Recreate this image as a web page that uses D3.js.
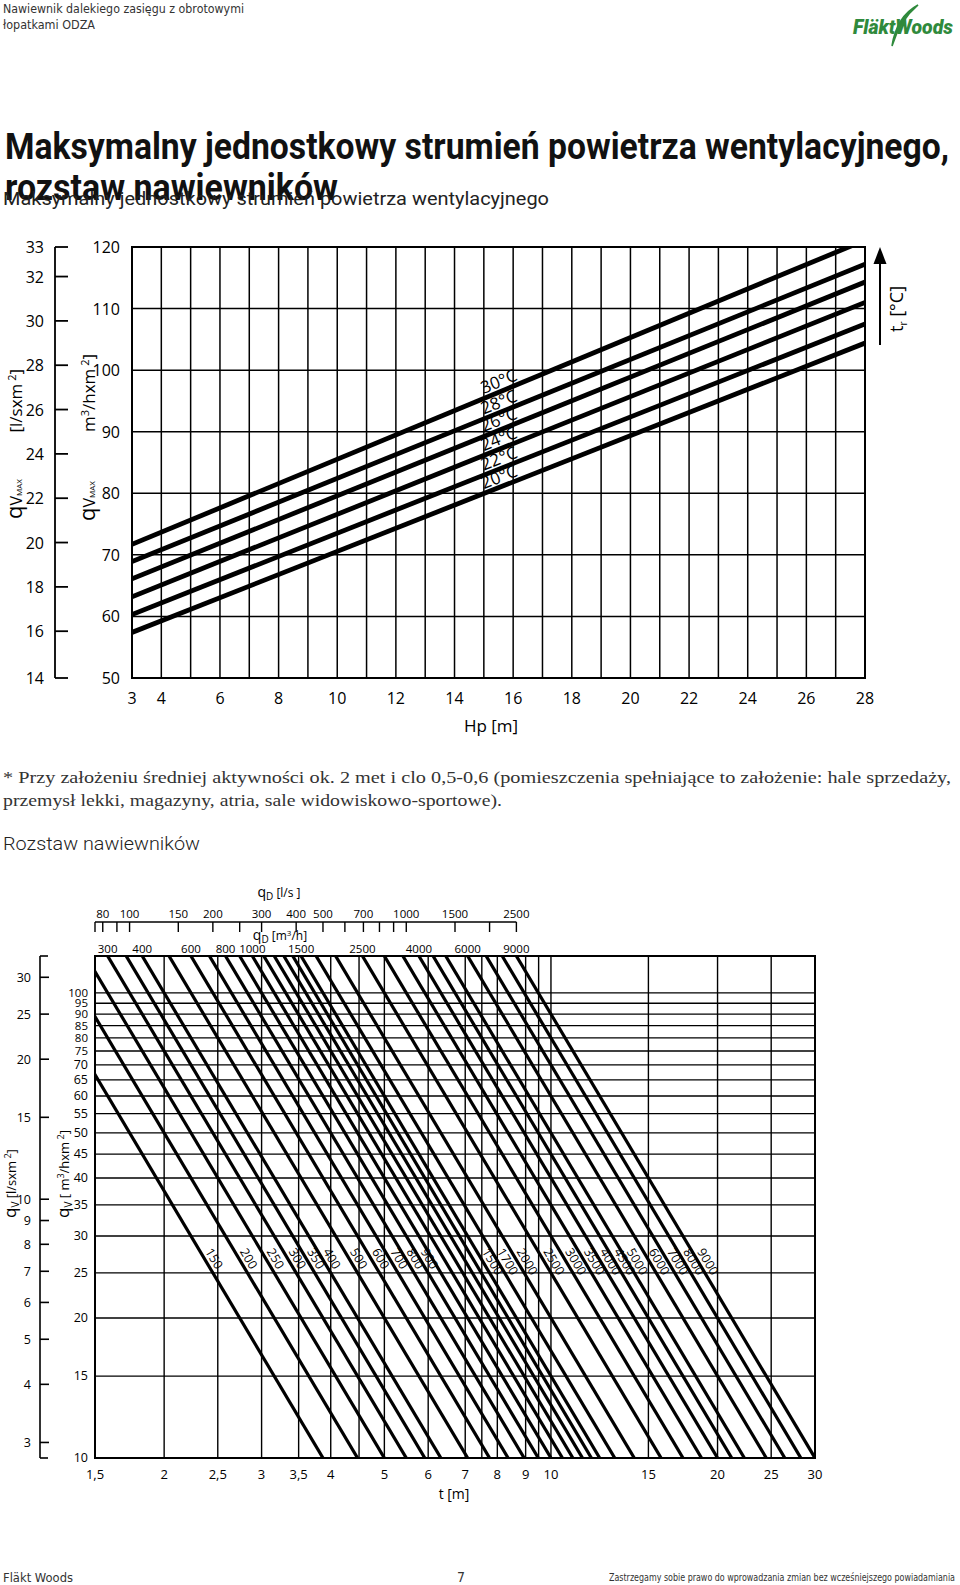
<!DOCTYPE html>
<html><head><meta charset="utf-8">
<script src="https://cdn.jsdelivr.net/npm/d3@7"></script>
<style>body{margin:0;background:#fff}svg{display:block}</style>
</head><body>
<svg id="c" width="960" height="1585"></svg>
<script>
// ---------------- DATA ----------------
// Top chart: maximum unit air flow vs mounting height
const hpGrid = [3,4,5,6,7,8,9,10,11,12,13,14,15,16,17,18,19,20,21,22,23,24,25,26,27,28];
const hpLabels = [3,4,6,8,10,12,14,16,18,20,22,24,26,28];
const qvmaxM3Ticks = [50,60,70,80,90,100,110,120];
const qvmaxM3Grid = [60,70,80,90,100,110];
const qvmaxLsTicks = [14,16,18,20,22,24,26,28,30,32,33];
const tempLabels = ["20°C","22°C","24°C","26°C","28°C","30°C"];
const tempStartVals = [57.4, 60.3, 63.2, 66.1, 68.9, 71.7];   // at Hp = 3
const tempEndVals   = [104.4, 107.5, 111.0, 114.3, 117.2, 121.1]; // at Hp = 28

// Bottom chart: diffuser spacing nomogram
const tTicks = [1.5,2,2.5,3,3.5,4,5,6,7,8,9,10,15,20,25,30];
const tGrid = [2,2.5,3,3.5,4,4.5,5,6,7,7.5,8,9,9.5,10,15,20,25,30];
const qvM3Ticks = [10,15,20,25,30,35,40,45,50,55,60,65,70,75,80,85,90,95,100];
const qvLsTicks = [3,4,5,6,7,8,9,10,15,20,25,30];
const qdLsTicks = [75,80,90,100,150,200,250,300,400,500,600,700,800,900,1000,1500,2000,2500];
const qdLsLabels = [80,100,150,200,300,400,500,700,1000,1500,2500];
const qdM3Labels = [300,400,600,800,1000,1500,2500,4000,6000,9000];
const qdLines = [150,200,250,300,350,400,500,600,700,800,900,1000,1100,1200,1300,1400,1500,1700,2000,2500,3000,3500,4000,4500,5000,6000,7000,8000,9000];
const qdLineLabels = [150,200,250,300,350,400,500,600,700,800,900,1500,1700,2000,2500,3000,3500,4000,4500,5000,6000,7000,8000,9000];

// ---------------- DRAW ----------------
const svg = d3.select('#c');
svg.append('rect').attr('width',960).attr('height',1585).attr('fill','#fff');
const NUM = "'Open Sans','Noto Sans',sans-serif";
const COND = "'Liberation Sans Narrow','DejaVu Sans Condensed',Roboto,sans-serif";
const comma = v => String(v).replace('.', ',');

// Header
svg.append('text').attr('x',3).attr('y',13).attr('font-family',COND).attr('font-size',13)
  .attr('fill','#333').attr('textLength',241).attr('lengthAdjust','spacingAndGlyphs')
  .text('Nawiewnik dalekiego zasięgu z obrotowymi');
svg.append('text').attr('x',3).attr('y',29).attr('font-family',COND).attr('font-size',13)
  .attr('fill','#333').attr('textLength',92).attr('lengthAdjust','spacingAndGlyphs')
  .text('łopatkami ODZA');
svg.append('path').attr('d','M918 5 C903 13 895 27 892 46 C897 30 905 16 918 5 Z').attr('fill','#2f8a3c')
  .attr('stroke','#2f8a3c').attr('stroke-width',1.6);
svg.append('text').attr('x',853).attr('y',34).attr('font-family','Roboto,sans-serif')
  .attr('font-weight',900).attr('font-style','italic').attr('font-size',21)
  .attr('fill','#2f8a3c').attr('textLength',100).attr('lengthAdjust','spacingAndGlyphs').text('FläktWoods');

// Title
svg.append('text').attr('x',5).attr('y',159).attr('font-family','Roboto,sans-serif').attr('font-weight','bold')
  .attr('font-size',37).attr('fill','#111').attr('textLength',944).attr('lengthAdjust','spacingAndGlyphs')
  .text('Maksymalny jednostkowy strumień powietrza wentylacyjnego,');
svg.append('text').attr('x',5).attr('y',200).attr('font-family','Roboto,sans-serif').attr('font-weight','bold')
  .attr('font-size',37).attr('fill','#111').attr('textLength',333).attr('lengthAdjust','spacingAndGlyphs')
  .text('rozstaw nawiewników');
svg.append('text').attr('x',3).attr('y',205).attr('font-family','Roboto,sans-serif')
  .attr('font-size',19).attr('fill','#222').attr('textLength',546).attr('lengthAdjust','spacingAndGlyphs')
  .text('Maksymalny jednostkowy strumień powietrza wentylacyjnego');

// ---------- TOP CHART ----------
const xT = d3.scaleLinear().domain([3,28]).range([132,865]);
const yT = d3.scaleLinear().domain([50,120]).range([678,247]);
const yTls = d3.scaleLinear().domain([14,16,32,33]).range([yT(50),yT(16*3.6),yT(32*3.6),yT(120)]);
const gT = svg.append('g');
gT.append('defs').append('clipPath').attr('id','clipT').append('rect')
  .attr('x',xT(3)).attr('y',yT(120)).attr('width',xT(28)-xT(3)).attr('height',yT(50)-yT(120));
gT.selectAll('.vg').data(hpGrid).join('line').attr('x1',d=>xT(d)).attr('x2',d=>xT(d))
  .attr('y1',yT(50)).attr('y2',yT(120)).attr('stroke','#000').attr('stroke-width',1.5);
gT.selectAll('.hg').data(qvmaxM3Grid).join('line').attr('y1',d=>yT(d)).attr('y2',d=>yT(d))
  .attr('x1',xT(3)).attr('x2',xT(28)).attr('stroke','#000').attr('stroke-width',1.5);
gT.append('rect').attr('x',xT(3)).attr('y',yT(120)).attr('width',xT(28)-xT(3)).attr('height',yT(50)-yT(120))
  .attr('fill','none').attr('stroke','#000').attr('stroke-width',2);
const tempData = tempLabels.map((l,i)=>({l, a:tempStartVals[i], b:tempEndVals[i]}));
gT.append('g').attr('clip-path','url(#clipT)').selectAll('line').data(tempData).join('line')
  .attr('x1',xT(3)).attr('x2',xT(28)).attr('y1',d=>yT(d.a)).attr('y2',d=>yT(d.b))
  .attr('stroke','#000').attr('stroke-width',4.8);
const hpLab = 15.05;
tempData.forEach(d=>{
  const ang = Math.atan2(yT(d.b)-yT(d.a), xT(28)-xT(3));
  const v = d.a + (d.b-d.a)*(hpLab-3)/25;
  const px = xT(hpLab) + 4*Math.sin(ang), py = yT(v) - 4*Math.cos(ang);
  gT.append('text').attr('transform',`translate(${px},${py}) rotate(${ang*180/Math.PI})`)
    .attr('font-family',NUM).attr('font-size',17).attr('fill','#000').text(d.l);
});
// inner left labels
gT.selectAll('.ll').data(qvmaxM3Ticks).join('text').attr('x',120).attr('y',d=>yT(d)+6)
  .attr('text-anchor','end').attr('font-family',NUM).attr('font-size',16).text(d=>d);
// outer left axis
gT.append('line').attr('x1',55).attr('x2',55).attr('y1',yTls(14)).attr('y2',yTls(33)).attr('stroke','#000').attr('stroke-width',1.8);
gT.selectAll('.ot').data(qvmaxLsTicks).join('line').attr('x1',55).attr('x2',68)
  .attr('y1',d=>yTls(d)).attr('y2',d=>yTls(d)).attr('stroke','#000').attr('stroke-width',1.8);
gT.selectAll('.ol').data(qvmaxLsTicks).join('text').attr('x',44).attr('y',d=>yTls(d)+6)
  .attr('text-anchor','end').attr('font-family',NUM).attr('font-size',16).text(d=>d);
// bottom labels
gT.selectAll('.bl').data(hpLabels).join('text').attr('x',d=>xT(d)).attr('y',704)
  .attr('text-anchor','middle').attr('font-family',NUM).attr('font-size',16).text(d=>d);
gT.append('text').attr('x',491).attr('y',732).attr('text-anchor','middle').attr('font-family',NUM)
  .attr('font-size',17).text('Hp [m]');
// rotated titles
function vTitle(x,y,anchor,parts,size){
  const t = svg.append('text').attr('transform',`translate(${x},${y}) rotate(-90)`)
    .attr('text-anchor',anchor).attr('font-family',NUM).attr('font-size',size);
  parts.forEach(p=>{ const s=t.append('tspan').text(p[0]); if(p[1]) s.attr('font-size',p[1]); if(p[2]) s.attr('dy',p[2]); });
  return t;
}
vTitle(22,519,'start',[['q',22],['V',16,0],['MAX',8,0]],16);
vTitle(22,369,'end',[['[l/sxm',17],[' 2',11,-6],[']',17,6]],17);
vTitle(95,521,'start',[['q',22],['V',16,0],['MAX',8,0]],16);
vTitle(95,354,'end',[['m',17],['3',11,-6],['/hxm',17,6],[' 2',11,-6],[']',17,6]],17);
// t_r arrow
svg.append('line').attr('x1',880).attr('x2',880).attr('y1',260).attr('y2',345).attr('stroke','#000').attr('stroke-width',2);
svg.append('path').attr('d','M880 247 L873.5 264 L886.5 264 Z').attr('fill','#000');
{
  const t = svg.append('text').attr('transform','translate(903,309) rotate(-90)').attr('text-anchor','middle')
   .attr('font-family',NUM).attr('font-size',18);
  t.append('tspan').text('t'); t.append('tspan').attr('font-size',10).attr('dy',4).text('r');
  t.append('tspan').attr('dy',-4).text(' [°C]');
}

// Note
svg.append('text').attr('x',3).attr('y',783).attr('font-family',"'Liberation Serif','DejaVu Serif',serif")
  .attr('font-size',17).attr('fill','#333').attr('textLength',948).attr('lengthAdjust','spacingAndGlyphs')
  .text('* Przy założeniu średniej aktywności ok. 2 met i clo 0,5-0,6 (pomieszczenia spełniające to założenie: hale sprzedaży,');
svg.append('text').attr('x',3).attr('y',806).attr('font-family',"'Liberation Serif','DejaVu Serif',serif")
  .attr('font-size',17).attr('fill','#333').attr('textLength',499).attr('lengthAdjust','spacingAndGlyphs')
  .text('przemysł lekki, magazyny, atria, sale widowiskowo-sportowe).');
svg.append('text').attr('x',3).attr('y',850).attr('font-family','Roboto,sans-serif').attr('font-weight',300)
  .attr('font-size',19).attr('fill','#222').attr('textLength',197).attr('lengthAdjust','spacingAndGlyphs')
  .text('Rozstaw nawiewników');

// ---------- BOTTOM CHART ----------
const xB = d3.scaleLog().domain([1.5,30]).range([95,815]);
const yB = d3.scaleLog().domain([10,120]).range([1458,956]);
const gB = svg.append('g');
gB.append('defs').append('clipPath').attr('id','clipB').append('rect')
  .attr('x',xB(1.5)).attr('y',yB(120)).attr('width',xB(30)-xB(1.5)).attr('height',yB(10)-yB(120));
gB.selectAll('.vg').data(tGrid).join('line').attr('x1',d=>xB(d)).attr('x2',d=>xB(d))
  .attr('y1',yB(10)).attr('y2',yB(120)).attr('stroke','#000').attr('stroke-width',1.4);
gB.selectAll('.hg').data(qvM3Ticks).join('line').attr('y1',d=>yB(d)).attr('y2',d=>yB(d))
  .attr('x1',xB(1.5)).attr('x2',xB(30)).attr('stroke','#000').attr('stroke-width',1.4);
gB.append('rect').attr('x',xB(1.5)).attr('y',yB(120)).attr('width',xB(30)-xB(1.5)).attr('height',yB(10)-yB(120))
  .attr('fill','none').attr('stroke','#000').attr('stroke-width',2);
gB.append('g').attr('clip-path','url(#clipB)').selectAll('line').data(qdLines).join('line')
  .attr('x1',d=>xB(Math.sqrt(d/200))).attr('y1',yB(200))
  .attr('x2',d=>xB(Math.sqrt(d/5))).attr('y2',yB(5))
  .attr('stroke','#000').attr('stroke-width',3.2);
qdLineLabels.forEach(q=>{
  const ang = Math.atan2(yB(5)-yB(200), xB(Math.sqrt(q/5))-xB(Math.sqrt(q/200)));
  const qv = 27.5;
  const px = xB(Math.sqrt(q/qv)) + 4*Math.sin(ang), py = yB(qv) - 4*Math.cos(ang);
  gB.append('text').attr('transform',`translate(${px},${py}) rotate(${ang*180/Math.PI})`)
    .attr('font-family',NUM).attr('font-size',12.5).text(q);
});
// left inner labels
gB.selectAll('.li').data(qvM3Ticks).join('text').attr('x',88).attr('y',d=>yB(d)+4)
  .attr('text-anchor','end').attr('font-family',NUM).attr('font-size',d=>d>=75?11.5:12.5).text(d=>d);
// left outer axis
gB.append('line').attr('x1',40).attr('x2',40).attr('y1',yB(10)).attr('y2',yB(120)).attr('stroke','#000').attr('stroke-width',1.6);
gB.selectAll('.oc').data([10,120]).join('line').attr('x1',40).attr('x2',48).attr('y1',d=>yB(d)).attr('y2',d=>yB(d)).attr('stroke','#000').attr('stroke-width',1.6);
gB.selectAll('.ot').data(qvLsTicks).join('line').attr('x1',40).attr('x2',49)
  .attr('y1',d=>yB(d*3.6)).attr('y2',d=>yB(d*3.6)).attr('stroke','#000').attr('stroke-width',1.6);
gB.selectAll('.ol').data(qvLsTicks).join('text').attr('x',31).attr('y',d=>yB(d*3.6)+4.5)
  .attr('text-anchor','end').attr('font-family',NUM).attr('font-size',12.5).text(d=>d);
// bottom labels
gB.selectAll('.bl').data(tTicks).join('text').attr('x',d=>xB(d)).attr('y',1479)
  .attr('text-anchor','middle').attr('font-family',NUM).attr('font-size',13).text(d=>comma(d));
gB.append('text').attr('x',454).attr('y',1499).attr('text-anchor','middle').attr('font-family',NUM)
  .attr('font-size',14).text('t [m]');
// top axes (q_D at q_V = top of chart)
const topQv = yB.domain()[1];
const xQd = qm3 => xB(Math.sqrt(qm3/topQv));
const axY = 922;
gB.append('line').attr('x1',xQd(qdLsTicks[0]*3.6)).attr('x2',xQd(2500*3.6)).attr('y1',axY).attr('y2',axY).attr('stroke','#000').attr('stroke-width',1.4);
gB.selectAll('.lt').data(qdLsTicks).join('line').attr('x1',d=>xQd(d*3.6)).attr('x2',d=>xQd(d*3.6))
  .attr('y1',axY).attr('y2',axY+10).attr('stroke','#000').attr('stroke-width',1.4);
gB.selectAll('.lsl').data(qdLsLabels).join('text').attr('x',d=>xQd(d*3.6)).attr('y',918)
  .attr('text-anchor','middle').attr('font-family',NUM).attr('font-size',11.5).text(d=>d);
gB.selectAll('.m3l').data(qdM3Labels).join('text').attr('x',d=>xQd(d)).attr('y',953)
  .attr('text-anchor','middle').attr('font-family',NUM).attr('font-size',11.5).text(d=>d);
{
  const t = svg.append('text').attr('x',279).attr('y',897).attr('text-anchor','middle').attr('font-family',NUM).attr('font-size',14);
  t.append('tspan').text('q'); t.append('tspan').attr('font-size',10).attr('dy',3).text('D');
  t.append('tspan').attr('dy',-3).attr('font-size',12).text(' [l/s ]');
  const t2 = svg.append('text').attr('x',280).attr('y',940).attr('text-anchor','middle').attr('font-family',NUM).attr('font-size',14);
  t2.append('tspan').text('q'); t2.append('tspan').attr('font-size',10).attr('dy',3).text('D');
  t2.append('tspan').attr('dy',-3).attr('font-size',12).text(' [m');
  t2.append('tspan').attr('dy',-4).attr('font-size',8).text('3');
  t2.append('tspan').attr('dy',4).attr('font-size',12).text('/h]');
}
vTitle(16,1218,'start',[['q',17],['V',10,3],[' [l/sxm',13,-3],[' 2',9,-5],[']',13,5]],13);
vTitle(69,1218,'start',[['q',17],['V',10,3],[' [ m',13,-3],['3',9,-5],['/hxm',13,5],[' 2',9,-5],[']',13,5]],13);

// Footer
svg.append('text').attr('x',3).attr('y',1582).attr('font-family',COND).attr('font-size',13).attr('fill','#333')
  .attr('textLength',70).attr('lengthAdjust','spacingAndGlyphs').text('Fläkt Woods');
svg.append('text').attr('x',457).attr('y',1582).attr('font-family',COND).attr('font-size',14).attr('fill','#333').text('7');
svg.append('text').attr('x',609).attr('y',1581).attr('font-family',COND).attr('font-size',10).attr('fill','#333')
  .attr('textLength',346).attr('lengthAdjust','spacingAndGlyphs').text('Zastrzegamy sobie prawo do wprowadzania zmian bez wcześniejszego powiadamiania');
</script>
</body></html>
